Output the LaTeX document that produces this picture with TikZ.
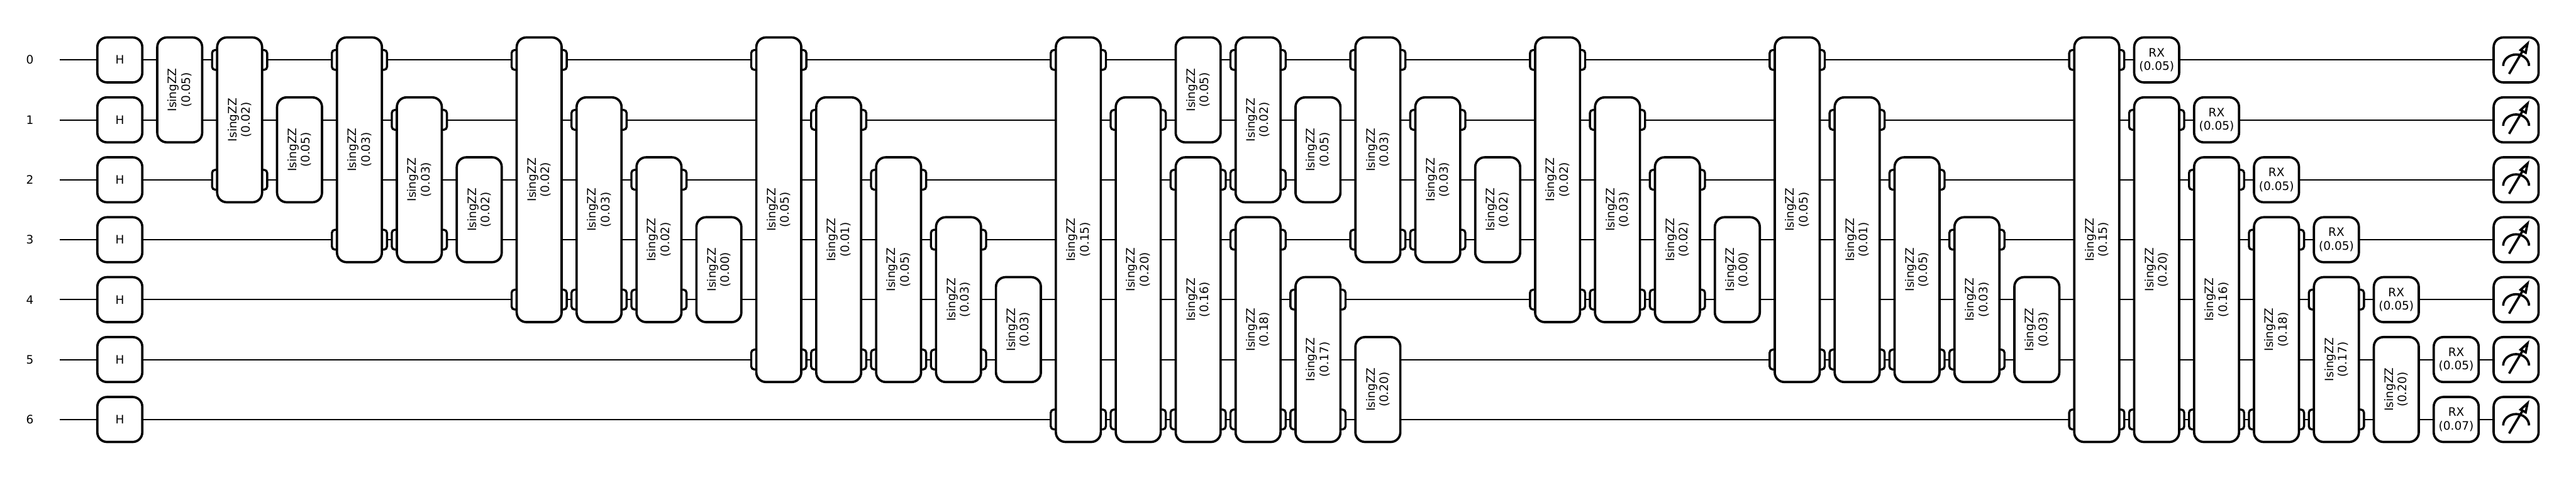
\documentclass[tikz,border=0pt]{standalone}
\usepackage{fontspec}
\setmainfont{DejaVu Sans}
\usetikzlibrary{backgrounds}

\begin{document}
\begin{tikzpicture}[
  every node/.style={font=\fontsize{5.53}{6.4}\selectfont,inner sep=0pt},
  qwire/.style={line width=0.6pt,black},
  gatebox/.style={draw=black,fill=white,line width=1.1pt,rounded corners=1.6mm,
                  minimum width=7.5mm,minimum height=7.5mm,align=center},
  notch/.style={draw=black,fill=white,line width=1pt,rounded corners=0.5mm,
                minimum width=9.2mm,minimum height=3.3mm},
  meter/.style={line width=1.1pt,black},
]
  \useasboundingbox (0,0) rectangle (43,-8);

  \foreach \k in {0,...,6}{
    \pgfmathtruncatemacro{\ypos}{\k+1}
    \node (w\k) at (0.5,-\ypos) {\k};
    \coordinate (s\k) at (1,-\ypos);
    \node[gatebox] (h\k) at (2,-\ypos) {H};
    \node[gatebox] (m\k) at (42,-\ypos) {};
    \begin{scope}[on background layer]
      \draw[qwire] (s\k) -- (m\k);
    \end{scope}
    \draw[meter,shift={(m\k)}] (-0.216,-0.10) arc[start angle=180,end angle=0,x radius=0.216,y radius=0.19];
    \draw[meter,shift={(m\k)}] (-0.117,-0.233) -- (0.11,0.15);
    \draw[meter,fill=white,line join=miter,shift={(m\k)}] (0.19,0.27) -- (0.075,0.165) -- (0.16,0.12) -- cycle;
  }

  \foreach \col/\wa/\wb/\ang in {
    3/0/1/0.05,4/0/2/0.02,5/1/2/0.05,6/0/3/0.03,7/1/3/0.03,8/2/3/0.02,
    9/0/4/0.02,10/1/4/0.03,11/2/4/0.02,12/3/4/0.00,
    13/0/5/0.05,14/1/5/0.01,15/2/5/0.05,16/3/5/0.03,17/4/5/0.03,
    18/0/6/0.15,19/1/6/0.20,20/0/1/0.05,20/2/6/0.16,21/0/2/0.02,21/3/6/0.18,
    22/1/2/0.05,22/4/6/0.17,23/0/3/0.03,23/5/6/0.20,24/1/3/0.03,25/2/3/0.02,
    26/0/4/0.02,27/1/4/0.03,28/2/4/0.02,29/3/4/0.00,
    30/0/5/0.05,31/1/5/0.01,32/2/5/0.05,33/3/5/0.03,34/4/5/0.03,
    35/0/6/0.15,36/1/6/0.20,37/2/6/0.16,38/3/6/0.18,39/4/6/0.17,40/5/6/0.20}{
    \pgfmathsetmacro{\ymid}{-(\wa+\wb)/2-1}
    \pgfmathsetmacro{\span}{\wb-\wa+0.75}
    \pgfmathtruncatemacro{\gap}{\wb-\wa}
    \ifnum\gap>1
      \node[notch] (na\col-\wa) at (\col,-\wa-1) {};
      \node[notch] (nb\col-\wa) at (\col,-\wb-1) {};
    \fi
    \node[gatebox,rotate=90,minimum width=\span cm] (zz\col-\wa) at (\col,\ymid) {IsingZZ\\(\ang)};
  }

  \node[gatebox] (rx0) at (36,-1) {RX\\(0.05)};
  \node[gatebox] (rx1) at (37,-2) {RX\\(0.05)};
  \node[gatebox] (rx2) at (38,-3) {RX\\(0.05)};
  \node[gatebox] (rx3) at (39,-4) {RX\\(0.05)};
  \node[gatebox] (rx4) at (40,-5) {RX\\(0.05)};
  \node[gatebox] (rx5) at (41,-6) {RX\\(0.05)};
  \node[gatebox] (rx6) at (41,-7) {RX\\(0.07)};
\end{tikzpicture}
\end{document}
